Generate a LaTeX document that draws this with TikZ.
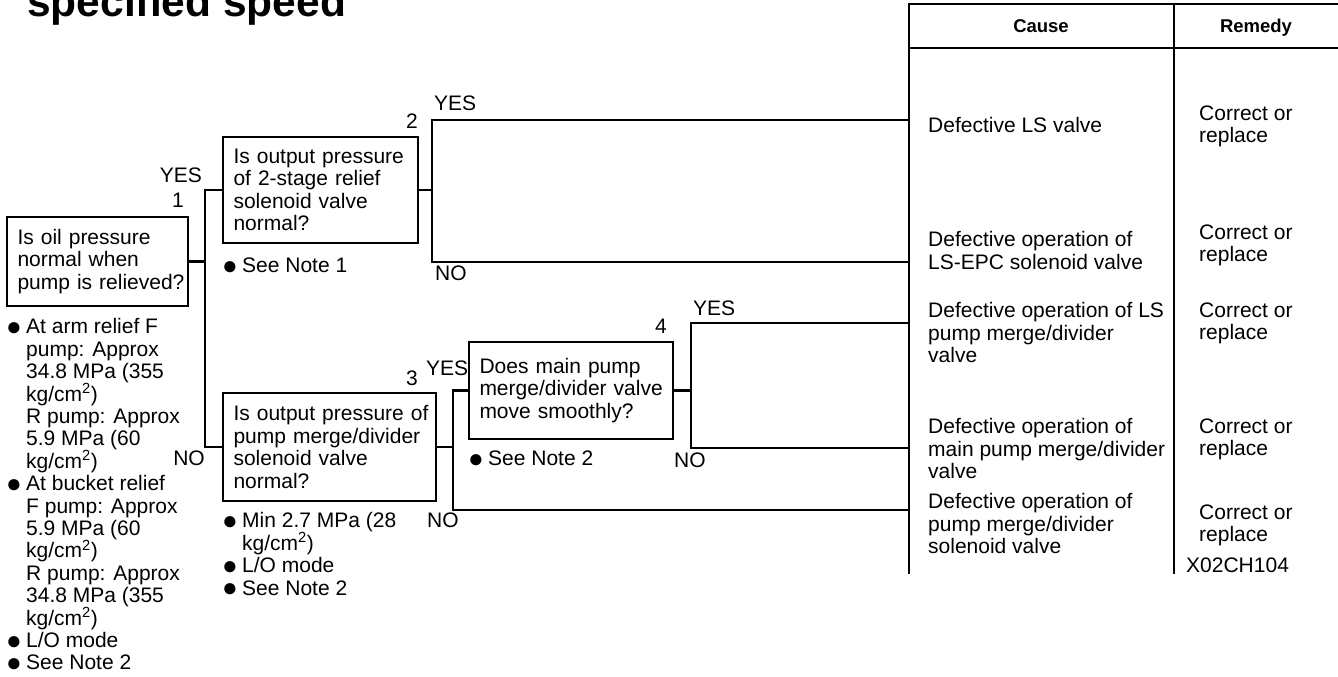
\documentclass[tikz,border=0pt]{standalone}
\usepackage{fontspec}
\setmainfont{Liberation Sans}
\newcommand{\txtf}{\fontsize{21}{22.5}\selectfont\lineskiplimit=-40pt\relax}
\newcommand{\notef}{\fontsize{21}{22.4}\selectfont\lineskiplimit=-40pt\relax}
\newcommand{\bul}{\makebox[20pt][l]{\raisebox{-1.5pt}{\fontsize{26}{26}\selectfont ●}}}
\newcommand{\ind}{\hspace*{20pt}}
\newcommand{\sqr}{\textsuperscript{2}}
\newcommand{\qln}[1]{\mbox{#1}}
\begin{document}
\begin{tikzpicture}[x=1pt,y=-1pt,
  qbox/.style={draw, line width=2.7pt, inner xsep=10.5pt, inner ysep=0pt, outer sep=0pt, align=left, anchor=north west, font=\txtf},
  conn/.style={line width=2.7pt},
  tline/.style={line width=2.7pt},
  lbl/.style={inner sep=0pt, font=\txtf},
  note/.style={inner sep=0pt, align=left, anchor=north west, font=\txtf},
  lnote/.style={inner sep=0pt, align=left, anchor=north west, font=\notef},
  hdr/.style={inner sep=0pt, anchor=base, font=\fontsize{18.5}{20}\selectfont\bfseries},
]
\useasboundingbox (0,0) rectangle (1338,677);

% title (cut off at the top, as in the reference)
\begin{scope}
\clip (0,0) rectangle (1338,677);
\node[anchor=base west, inner sep=0pt, font=\fontsize{42.5}{42.5}\selectfont\bfseries] (title) at (27,17) {specified speed};
\end{scope}

% question boxes
\node[qbox, text width=160pt, minimum height=89pt] (b1) at (7,217) {\qln{Is oil pressure}\\\qln{normal when}\\\qln{pump is relieved?}};
\node[qbox, text width=174pt, minimum height=106pt] (b2) at (223,137) {\qln{Is output pressure}\\\qln{of 2-stage relief}\\\qln{solenoid valve}\\\qln{normal?}};
\node[qbox, text width=192pt, minimum height=108pt] (b3) at (223,393) {\qln{Is output pressure of}\\\qln{pump merge/divider}\\\qln{solenoid valve}\\\qln{normal?}};
\node[qbox, text width=183pt, minimum height=97pt] (b4) at (469,342) {\qln{Does main pump}\\\qln{merge/divider valve}\\\qln{move smoothly?}};

% junction columns and cause ends
\coordinate (j1) at (205,0);
\coordinate (j2) at (432,0);
\coordinate (j3) at (453,0);
\coordinate (j4) at (691,0);
\coordinate (c1) at (909,120);
\coordinate (c2) at (909,262);
\coordinate (c3) at (909,323);
\coordinate (c4) at (909,448);
\coordinate (c5) at (909,510);

% connectors
\draw[conn] (b1.east) -- (b1.east -| j1);
\draw[conn] (b2.west) -| (j1 |- b3.west) -- (b3.west);
\draw[conn] (b2.east) -- (b2.east -| j2);
\draw[conn] (c1) -| (j2 |- c2) -- (c2);
\draw[conn] (b3.east) -- (b3.east -| j3);
\draw[conn] (b4.west) -| (j3 |- c5) -- (c5);
\draw[conn] (b4.east) -- (b4.east -| j4);
\draw[conn] (c3) -| (j4 |- c4) -- (c4);

% branch labels and numbers
\node[lbl, anchor=base east] (y1) at (202,182) {YES};
\node[lbl, anchor=base east] (k1) at (184,207) {1};
\node[lbl, anchor=base east] (no1) at (205,465) {NO};
\node[lbl, anchor=base east] (k2) at (418,128) {2};
\node[lbl, anchor=base west] (y2) at (434,110) {YES};
\node[lbl, anchor=base west] (no2) at (435,280) {NO};
\node[lbl, anchor=base east] (k3) at (418,385) {3};
\node[lbl, anchor=base west] (y3) at (426,375) {YES};
\node[lbl, anchor=base west] (no3) at (427,527) {NO};
\node[lbl, anchor=base east] (k4) at (667,333) {4};
\node[lbl, anchor=base west] (y4) at (693,315) {YES};
\node[lbl, anchor=base west] (no4) at (674,467) {NO};

% notes
\node[lnote] (nt1) at (6,318.5) {\bul At arm relief F\\\ind pump: Approx\\\ind 34.8 MPa (355\\\ind kg/cm\sqr)\\\ind R pump: Approx\\\ind 5.9 MPa (60\\\ind kg/cm\sqr)\\\bul At bucket relief\\\ind F pump: Approx\\\ind 5.9 MPa (60\\\ind kg/cm\sqr)\\\ind R pump: Approx\\\ind 34.8 MPa (355\\\ind kg/cm\sqr)\\\bul L/O mode\\\bul See Note 2};
\node[lbl, anchor=base west] (nt2) at (222,272.5) {\bul See Note 1};
\node[note] (nt3) at (222,512.5) {\bul Min 2.7 MPa (28\\\ind kg/cm\sqr)\\\bul L/O mode\\\bul See Note 2};
\node[lbl, anchor=base west] (nt4) at (468,465.5) {\bul See Note 2};

% table
\draw[tline] (1338,4) -- (909,4) -- (909,574);
\draw[tline] (909,48) -- (1338,48);
\draw[tline] (1174,4) -- (1174,574);
\node[hdr] (hc) at (1041,33) {Cause};
\node[hdr] (hr) at (1256,33) {Remedy};

% causes
\node[lbl, anchor=base west] (ca1) at (928,132.5) {Defective LS valve};
\node[note] (ca2) at (928,231.5) {Defective operation of\\LS-EPC solenoid valve};
\node[note] (ca3) at (928,302.5) {Defective operation of LS\\pump merge/divider\\valve};
\node[note] (ca4) at (928,418.5) {Defective operation of\\main pump merge/divider\\valve};
\node[note] (ca5) at (928,493.5) {Defective operation of\\pump merge/divider\\solenoid valve};

% remedies
\node[note] (r1) at (1199,105.5) {Correct or\\replace};
\node[note] (r2) at (1199,224.5) {Correct or\\replace};
\node[note] (r3) at (1199,302.5) {Correct or\\replace};
\node[note] (r4) at (1199,418.5) {Correct or\\replace};
\node[note] (r5) at (1199,504.5) {Correct or\\replace};
\node[lbl, anchor=base west] (xid) at (1186,572) {X02CH104};
\end{tikzpicture}
\end{document}
